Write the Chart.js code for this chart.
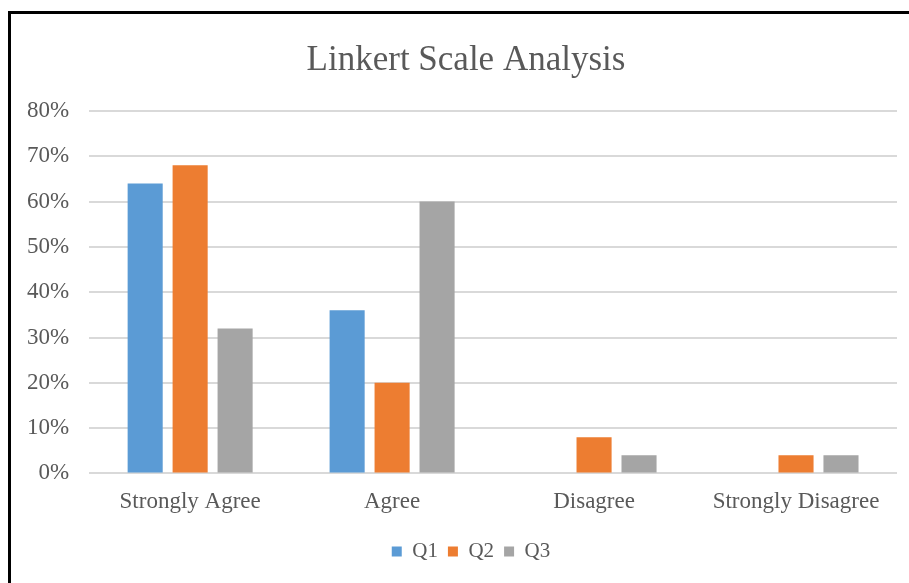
<!DOCTYPE html>
<html>
<head>
<meta charset="utf-8">
<script src="https://cdn.jsdelivr.net/npm/chart.js@4/dist/chart.umd.min.js"></script>
<style>
  html, body { margin: 0; padding: 0; background: #fff; }
  #frame {
    position: absolute; left: 8px; top: 11px;
    width: 901px; height: 572px;
    border-top: 3px solid #000; border-left: 3px solid #000;
  }
  #chart { position: absolute; left: -4px; top: 0; display: block; }
</style>
</head>
<body>
<div id="frame"><canvas id="chart" width="902" height="569"></canvas></div>
<script>
// Survey responses per question
const categories = ['Strongly Agree', 'Agree', 'Disagree', 'Strongly Disagree'];
const q1 = [64, 36, 0, 0];
const q2 = [68, 20, 8, 4];
const q3 = [32, 60, 4, 4];
const seriesNames = ['Q1', 'Q2', 'Q3'];
const seriesColors = ['#5B9BD5', '#ED7D31', '#A5A5A5'];

const serif = "'Liberation Serif', 'Times New Roman', serif";
const textColor = '#595959';

// the original chart is a bit wider than this crop, so title and legend sit right of centre
const shiftBlocks = {
    id: 'shiftBlocks',
    afterLayout(chart) {
        chart.titleBlock.left += 28;
        chart.legend.left += 38;
    }
};

const ctx = document.getElementById('chart').getContext('2d');
new Chart(ctx, {
    type: 'bar',
    data: {
        labels: categories,
        datasets: [q1, q2, q3].map((values, i) => ({
            label: seriesNames[i],
            data: values,
            backgroundColor: seriesColors[i],
            categoryPercentage: 0.668,
            barPercentage: 0.78
        }))
    },
    options: {
        responsive: false,
        animation: false,
        layout: { padding: { left: 0, right: 12, top: 26, bottom: 11 } },
        scales: {
            x: {
                grid: { display: false, drawTicks: false },
                border: { display: false },
                ticks: { color: textColor, font: { family: serif, size: 23 }, padding: 15 }
            },
            y: {
                min: 0,
                max: 80,
                ticks: {
                    stepSize: 10,
                    color: textColor,
                    padding: 20,
                    font: { family: serif, size: 23 },
                    callback: v => v + '%'
                },
                grid: { color: '#d9d9d9', lineWidth: 2, drawTicks: false },
                border: { display: false }
            }
        },
        plugins: {
            title: {
                display: true,
                text: 'Linkert Scale Analysis',
                color: textColor,
                font: { family: serif, size: 35, weight: 'normal' },
                padding: { top: 0, bottom: 29 }
            },
            legend: {
                position: 'bottom',
                labels: {
                    color: textColor,
                    font: { family: serif, size: 21 },
                    boxWidth: 10,
                    boxHeight: 10,
                    padding: 10
                }
            },
            tooltip: { enabled: false }
        }
    },
    plugins: [shiftBlocks]
});
</script>
</body>
</html>
